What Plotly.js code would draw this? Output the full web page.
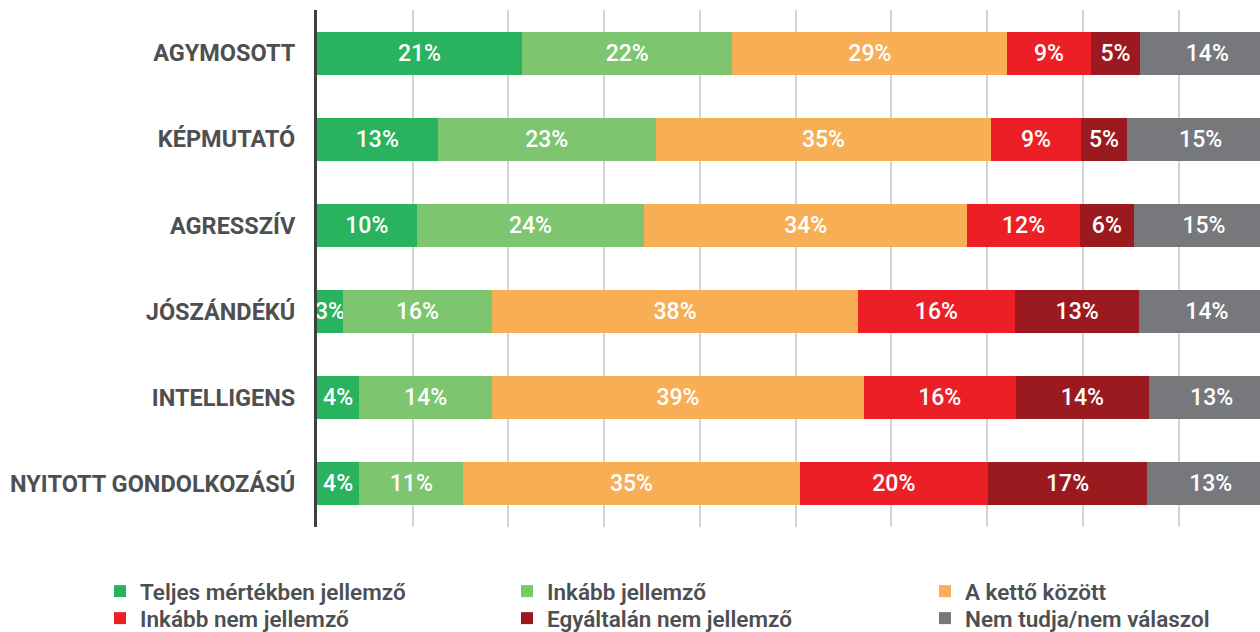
<!DOCTYPE html>
<html>
<head>
<meta charset="utf-8">
<script src="https://cdn.plot.ly/plotly-3.0.1.min.js"></script>
<style>
html,body{margin:0;padding:0;background:#fff;}
#chart{width:1260px;height:632px;}
</style>
</head>
<body>
<div id="chart"></div>
<script>
const categories = ["AGYMOSOTT", "KÉPMUTATÓ", "AGRESSZÍV", "JÓSZÁNDÉKÚ", "INTELLIGENS", "NYITOTT GONDOLKOZÁSÚ"];
const seriesNames = ["Teljes mértékben jellemző", "Inkább jellemző", "A kettő között", "Inkább nem jellemző", "Egyáltalán nem jellemző", "Nem tudja/nem válaszol"];
const teljes     = [21.4, 12.6, 10.4, 2.7, 4.4, 4.4];
const inkabb     = [22.0, 22.8, 23.8, 15.6, 13.9, 10.9];
const ketto      = [28.7, 35.0, 33.7, 38.2, 38.8, 35.1];
const inkabbNem  = [8.7, 9.4, 11.8, 16.4, 15.9, 19.7];
const egyaltalan = [5.2, 4.8, 5.6, 13.0, 13.9, 16.6];
const nemTudja   = [14.0, 15.4, 14.7, 14.1, 13.1, 13.3];
const colors = ["#29b35e", "#7dc56f", "#f7ae55", "#ec1f27", "#9a1a1f", "#76787b"];
const legendIds = ["legend", "legend2", "legend3", "legend4", "legend5", "legend6"];

const seriesValues = [teljes, inkabb, ketto, inkabbNem, egyaltalan, nemTudja];
const traces = seriesValues.map((vals, i) => ({
  type: "bar",
  orientation: "h",
  name: seriesNames[i],
  legend: legendIds[i],
  x: vals,
  y: categories,
  marker: {color: colors[i], line: {width: 0}},
  texttemplate: "%{x:.0f}%",
  textposition: "inside",
  insidetextanchor: "middle",
  textangle: 0,
  insidetextfont: {family: "Roboto, sans-serif", size: 23, color: "#ffffff", weight: 500},
  hoverinfo: "none"
}));

const legendFont = {family: "Roboto, sans-serif", size: 22.5, color: "#4d4f51", weight: 600};
const legendColX = [100, 507, 925];
const legendRowTop = [570, 597];
function legendAt(xpx, ypx) {
  return {
    orientation: "v",
    xref: "container",
    yref: "container",
    x: xpx / 1260,
    xanchor: "left",
    y: 1 - ypx / 632,
    yanchor: "top",
    font: legendFont,
    itemwidth: 30,
    tracegroupgap: 0,
    bgcolor: "rgba(0,0,0,0)"
  };
}

const layout = {
  width: 1260,
  height: 632,
  margin: {l: 317, r: 0, t: 10, b: 105, autoexpand: false},
  barmode: "stack",
  bargap: 0.5,
  paper_bgcolor: "#ffffff",
  plot_bgcolor: "#ffffff",
  uniformtext: {mode: "show", minsize: 23},
  xaxis: {
    range: [0, 98.5],
    showticklabels: false,
    showgrid: true,
    gridcolor: "#d4d4d4",
    gridwidth: 2,
    dtick: 10,
    tick0: 0,
    zeroline: false,
    showline: false,
    fixedrange: true
  },
  yaxis: {
    autorange: "reversed",
    showline: true,
    linecolor: "#3d3f41",
    linewidth: 3,
    ticks: "",
    ticklabelstandoff: 14,
    tickfont: {family: "Roboto, sans-serif", size: 23.5, color: "#4d4f51", weight: 700},
    showgrid: false,
    zeroline: false,
    fixedrange: true
  },
  showlegend: true
};
legendIds.forEach((id, i) => {
  layout[id] = legendAt(legendColX[i % 3], legendRowTop[Math.floor(i / 3)]);
});

Plotly.newPlot("chart", traces, layout, {displayModeBar: false, staticPlot: true});
</script>
</body>
</html>
